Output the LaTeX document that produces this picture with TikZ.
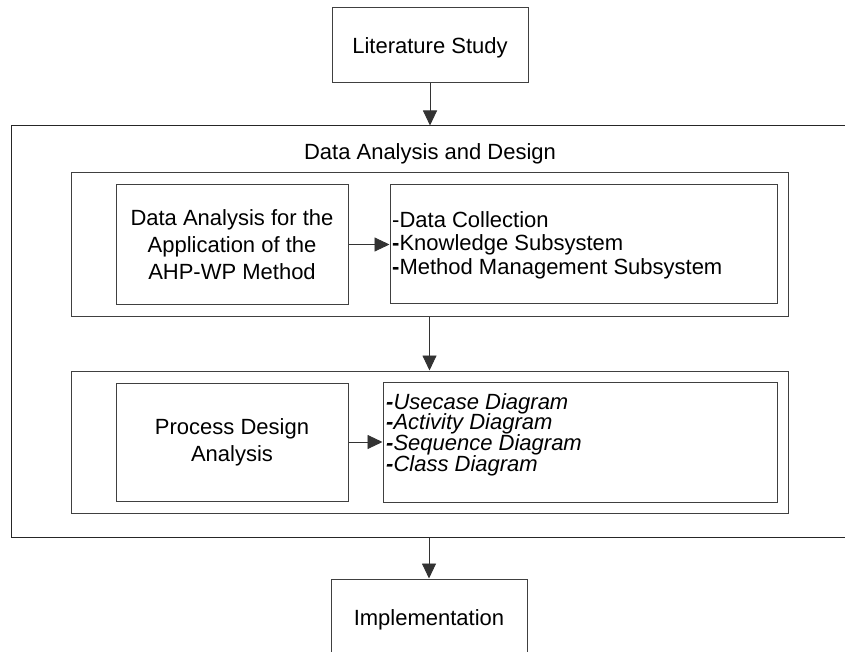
\documentclass[tikz,border=0pt]{standalone}
\usepackage{fontspec}
\setmainfont{Liberation Sans}
\usetikzlibrary{arrows.meta}
\begin{document}
\begin{tikzpicture}[x=1pt,y=-1pt,
  box/.style={draw=black!75,line width=1pt,inner sep=0pt,align=center},
  frame/.style={draw=black!85,line width=1pt,inner sep=0pt},
  arr/.style={draw=black!80,line width=0.9pt,-{Triangle[length=15pt,width=14pt]}},
  ctext/.style={font=\fontsize{22}{27}\selectfont,align=center},
  ltext/.style={align=left,inner sep=0pt,anchor=north west}
]
\useasboundingbox (0,0) rectangle (845,652);
\clip (0,0) rectangle (845,652);
\node[box,minimum width=196pt,minimum height=75pt] (lit) at (430,45.5) {};
\node[ctext,inner sep=0pt] (litt) at (430,47.5) {Literature Study};
\node[frame,minimum width=849pt,minimum height=411pt] (outer) at (435.5,331.5) {};
\node[ctext,inner sep=0pt] (title) at (430,153.5) {Data Analysis and Design};
\node[box,minimum width=717pt,minimum height=143pt] (in1) at (429.5,244.5) {};
\node[box,minimum width=232pt,minimum height=119pt,ctext] (l1) at (232,244.5) {Data Analysis for the\\Application of the\\AHP-WP Method};
\node[box,minimum width=387pt,minimum height=118pt] (r1) at (583.5,244) {};
\node[ltext,font=\fontsize{22}{23.5}\selectfont] (r1t) at (392,211) {-Data Collection\\\textbf{-}Knowledge Subsystem\\\textbf{-}Method Management Subsystem};
\node[box,minimum width=717pt,minimum height=142pt] (in2) at (429.5,442) {};
\node[box,minimum width=232pt,minimum height=118pt,ctext] (l2) at (232,442) {Process Design\\Analysis};
\node[box,minimum width=394pt,minimum height=120pt] (r2) at (580,442) {};
\node[ltext,font=\fontsize{22}{20.7}\selectfont\itshape] (r2t) at (386,393) {\textbf{-}Usecase Diagram\\\textbf{-}Activity Diagram\\\textbf{-}Sequence Diagram\\\textbf{-}Class Diagram};
\node[box,minimum width=196pt,minimum height=75pt] (impl) at (429,616.5) {};
\node[ctext,inner sep=0pt] (implt) at (429,620) {Implementation};
\draw[arr] (lit.south) -- (lit.south |- outer.north);
\draw[arr] (l1.east) -- (r1.west |- l1.east);
\draw[arr] (in1.south) -- (in2.north);
\draw[arr] (l2.east) -- (r2.west |- l2.east);
\draw[arr] (impl.north |- outer.south) -- (impl.north);
\end{tikzpicture}
\end{document}
